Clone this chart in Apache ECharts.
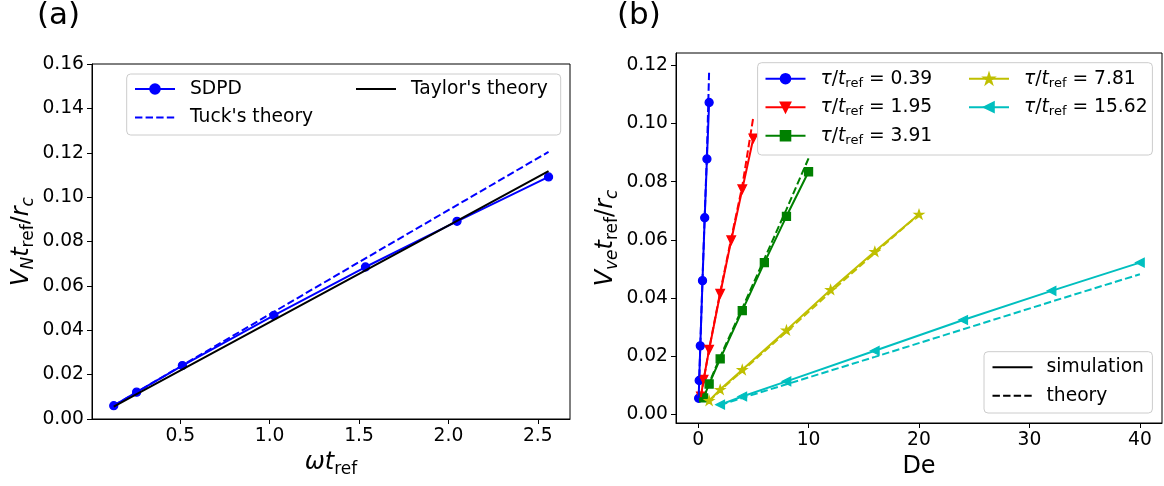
<!DOCTYPE html>
<html><head><meta charset="utf-8">
<script src="https://cdn.jsdelivr.net/npm/echarts@6/dist/echarts.min.js"></script>
<style>html,body{margin:0;padding:0;background:#fff;}#c{width:1164px;height:486px;}</style>
</head><body><div id="c"></div>
<script>
// ---------- Panel (a) data ----------
const omegaT = [0.128, 0.256, 0.512, 1.024, 1.536, 2.048, 2.56];
const sdpdV = [0.0060, 0.0121, 0.0241, 0.0467, 0.0685, 0.0891, 0.1091];
const tuckV = [0.0060, 0.0121, 0.0242, 0.0483, 0.0724, 0.0964, 0.1204];
const taylorV = [0.00558, 0.01117, 0.02234, 0.04468, 0.06702, 0.08935, 0.1117];
const aXTicks = [0.5, 1.0, 1.5, 2.0, 2.5];
const aYTicks = [0, 0.02, 0.04, 0.06, 0.08, 0.10, 0.12, 0.14, 0.16];

// ---------- Panel (b) data ----------
const tauLabels = ['0.39', '1.95', '3.91', '7.81', '15.62'];
const deTau039 = [0.05, 0.1, 0.2, 0.4, 0.6, 0.8, 1.0];
const deTau195 = [0.25, 0.5, 1, 2, 3, 4, 5];
const deTau391 = [0.5, 1, 2, 4, 6, 8, 10];
const deTau781 = [1, 2, 4, 8, 12, 16, 20];
const deTau1562 = [2, 4, 8, 16, 24, 32, 40];
const simTau039 = [0.0056, 0.0117, 0.0236, 0.0460, 0.0676, 0.0878, 0.1072];
const simTau195 = [0.0062, 0.0120, 0.0223, 0.0415, 0.0599, 0.0774, 0.0949];
const simTau391 = [0.0057, 0.0105, 0.0191, 0.0357, 0.0522, 0.0681, 0.0834];
const simTau781 = [0.0048, 0.0086, 0.0154, 0.0290, 0.0429, 0.0560, 0.0688];
const simTau1562 = [0.0034, 0.0062, 0.0114, 0.0219, 0.0325, 0.0425, 0.0522];
const thTau039 = [0.0057, 0.0117, 0.0237, 0.0465, 0.0685, 0.0895, 0.1183];
const thTau195 = [0.0060, 0.0118, 0.0226, 0.0420, 0.0605, 0.0785, 0.1022];
const thTau391 = [0.0057, 0.0108, 0.0198, 0.0365, 0.0535, 0.0705, 0.0880];
const thTau781 = [0.0046, 0.0083, 0.0150, 0.0284, 0.0421, 0.0555, 0.0688];
const thTau1562 = [0.0033, 0.0057, 0.0104, 0.0198, 0.0293, 0.0388, 0.0482];
const bXTicks = [0, 10, 20, 30, 40];
const bYTicks = [0, 0.02, 0.04, 0.06, 0.08, 0.10, 0.12];

const FONT = 'DejaVu Sans';
const pts = (xs, ys) => xs.map((x, i) => [x, ys[i]]);
const DASH = [7.4, 3.2];

const STAR = 'path://M0,-1 L0.2245,-0.309 L0.9511,-0.309 L0.3633,0.118 L0.5878,0.809 L0,0.382 L-0.5878,0.809 L-0.3633,0.118 L-0.9511,-0.309 L-0.2245,-0.309 Z';
const TRI_DOWN = 'path://M0,0 L2,0 L1,2 Z';
const TRI_LEFT = 'path://M0,1 L2,0 L2,2 Z';

const bGroups = [
  {de: deTau039, sim: simTau039, th: thTau039, color: '#0000ff', symbol: 'circle', size: 8},
  {de: deTau195, sim: simTau195, th: thTau195, color: '#ff0000', symbol: TRI_DOWN, size: 8.5},
  {de: deTau391, sim: simTau391, th: thTau391, color: '#008000', symbol: 'rect', size: 8},
  {de: deTau781, sim: simTau781, th: thTau781, color: '#bfbf00', symbol: STAR, size: [9, 8.5]},
  {de: deTau1562, sim: simTau1562, th: thTau1562, color: '#00bfbf', symbol: TRI_LEFT, size: 8.5}
];
const tauName = t => 'τ/tref = ' + t;

const axisRich = {
  it: {fontFamily: FONT, fontStyle: 'italic', fontSize: 24, lineHeight: 30, verticalAlign: 'middle', color: '#000'},
  n: {fontFamily: FONT, fontSize: 24, lineHeight: 30, verticalAlign: 'middle', color: '#000'},
  sub: {fontFamily: FONT, fontSize: 17, lineHeight: 16, verticalAlign: 'bottom', color: '#000'},
  subi: {fontFamily: FONT, fontStyle: 'italic', fontSize: 17, lineHeight: 16, verticalAlign: 'bottom', color: '#000'}
};
const legRich = {
  it: {fontFamily: FONT, fontStyle: 'italic', fontSize: 18.7, lineHeight: 22, verticalAlign: 'middle', color: '#000'},
  n: {fontFamily: FONT, fontSize: 18.7, lineHeight: 22, verticalAlign: 'middle', color: '#000'},
  sub: {fontFamily: FONT, fontSize: 13, lineHeight: 11, verticalAlign: 'bottom', color: '#000'}
};

function axisCommon(extra) {
  return Object.assign({
    type: 'value',
    splitLine: {show: false},
    axisLine: {show: true, onZero: false, lineStyle: {color: '#000', width: 1}},
    axisTick: {show: true, inside: false, length: 5, lineStyle: {color: '#000', width: 1}},
    axisLabel: {fontFamily: FONT, fontSize: 18.7, color: '#000', margin: 8},
    nameTextStyle: {rich: axisRich, fontFamily: FONT, fontSize: 24, color: '#000'}
  }, extra);
}

const series = [];
series.push({type: 'line', name: 'SDPD', xAxisIndex: 0, yAxisIndex: 0, data: pts(omegaT, sdpdV),
  symbol: 'circle', symbolSize: 8, color: '#0000ff',
  lineStyle: {width: 2, color: '#0000ff'}, itemStyle: {color: '#0000ff', borderColor: '#0000ff', borderWidth: 1.3}, z: 2});
series.push({type: 'line', name: "Tuck's theory", xAxisIndex: 0, yAxisIndex: 0, data: pts(omegaT, tuckV),
  symbol: 'none', color: '#0000ff', lineStyle: {width: 2, color: '#0000ff', type: DASH}, z: 3});
series.push({type: 'line', name: "Taylor's theory", xAxisIndex: 0, yAxisIndex: 0, data: pts(omegaT, taylorV),
  symbol: 'none', color: '#000000', lineStyle: {width: 2, color: '#000000'}, z: 4});

bGroups.forEach((g, i) => {
  series.push({type: 'line', name: tauName(tauLabels[i]), xAxisIndex: 1, yAxisIndex: 1, data: pts(g.de, g.sim),
    symbol: g.symbol, symbolSize: g.size, color: g.color,
    lineStyle: {width: 2, color: g.color}, itemStyle: {color: g.color, borderColor: g.color, borderWidth: 1.3}, z: 2});
  series.push({type: 'line', name: 'theory ' + tauLabels[i], xAxisIndex: 1, yAxisIndex: 1, data: pts(g.de, g.th),
    symbol: 'none', color: g.color, lineStyle: {width: 2, color: g.color, type: DASH}, z: 3});
});
series.push({type: 'line', name: 'simulation', xAxisIndex: 1, yAxisIndex: 1, data: [], symbol: 'none', color: '#000', lineStyle: {width: 2, color: '#000'}});
series.push({type: 'line', name: 'theory', xAxisIndex: 1, yAxisIndex: 1, data: [], symbol: 'none', color: '#000', lineStyle: {width: 2, color: '#000', type: DASH}});

// legend entries for plain lines: hide the default marker in the legend icon
const lineOnly = name => ({name: name, itemStyle: {color: 'rgba(0,0,0,0)', borderColor: 'rgba(0,0,0,0)', borderWidth: 0, opacity: 0}});

function legendFmt(name) {
  if (name.indexOf('τ/tref = ') === 0) {
    return '{it|τ}{n|/}{it|t}{sub|ref}{n| = ' + name.slice(9) + '}';
  }
  return '{n|' + name + '}';
}
function legend(data, left, top, textPad) {
  return {
    data: data, orient: 'vertical', left: left, top: top, padding: 0,
    itemWidth: 40, itemHeight: 12, itemGap: 6.5, selectedMode: false, z: 10,
    formatter: legendFmt,
    textStyle: {fontFamily: FONT, fontSize: 18.7, color: '#000', lineHeight: 22, padding: [0, 0, 0, textPad], rich: legRich}
  };
}

const option = {
  animation: false,
  backgroundColor: '#fff',
  grid: [
    {left: 92, top: 64, width: 478, height: 355, show: true, borderColor: '#000', borderWidth: 1, backgroundColor: 'transparent'},
    {left: 676, top: 53, width: 486, height: 370, show: true, borderColor: '#000', borderWidth: 1, backgroundColor: 'transparent'}
  ],
  xAxis: [
    axisCommon({gridIndex: 0, min: 0.0064, max: 2.68,
      axisTick: {show: true, inside: false, length: 5, customValues: aXTicks, lineStyle: {color: '#000', width: 1}},
      axisLabel: {fontFamily: FONT, fontSize: 18.7, color: '#000', margin: 8, customValues: aXTicks, formatter: v => v.toFixed(1)},
      name: '{it|ωt}{sub|ref}', nameLocation: 'middle', nameGap: 28}),
    axisCommon({gridIndex: 1, min: -2, max: 42,
      axisTick: {show: true, inside: false, length: 5, customValues: bXTicks, lineStyle: {color: '#000', width: 1}},
      axisLabel: {fontFamily: FONT, fontSize: 18.7, color: '#000', margin: 8, customValues: bXTicks, formatter: v => String(Math.round(v))},
      name: '{n|De}', nameLocation: 'middle', nameGap: 28})
  ],
  yAxis: [
    axisCommon({gridIndex: 0, min: 0, max: 0.16,
      axisTick: {show: true, inside: false, length: 5, customValues: aYTicks, lineStyle: {color: '#000', width: 1}},
      axisLabel: {fontFamily: FONT, fontSize: 18.7, color: '#000', margin: 8, customValues: aYTicks, formatter: v => v.toFixed(2)},
      name: '{it|V}{subi|N}{it|t}{sub|ref}{n|/}{it|r}{subi|c}', nameLocation: 'middle', nameGap: 55}),
    axisCommon({gridIndex: 1, min: -0.0029, max: 0.1242,
      axisTick: {show: true, inside: false, length: 5, customValues: bYTicks, lineStyle: {color: '#000', width: 1}},
      axisLabel: {fontFamily: FONT, fontSize: 18.7, color: '#000', margin: 8, customValues: bYTicks, formatter: v => v.toFixed(2)},
      name: '{it|V}{subi|ve}{it|t}{sub|ref}{n|/}{it|r}{subi|c}', nameLocation: 'middle', nameGap: 55})
  ],
  legend: [
    legend(['SDPD', lineOnly("Tuck's theory")], 134, 78, 10),
    legend([lineOnly("Taylor's theory")], 355, 78, 10),
    legend(tauLabels.slice(0, 3).map(tauName), 764.5, 67.7, 10),
    legend(tauLabels.slice(3).map(tauName), 968, 67.7, 10),
    legend([lineOnly('simulation'), lineOnly('theory')], 991.5, 356.3, 9)
  ],
  graphic: [
    {type: 'rect', z: 5, shape: {x: 126.7, y: 74, width: 434, height: 61, r: 4},
      style: {fill: 'rgba(255,255,255,0.8)', stroke: '#cccccc', lineWidth: 1}},
    {type: 'rect', z: 5, shape: {x: 757.6, y: 62.7, width: 394.8, height: 92.3, r: 4},
      style: {fill: 'rgba(255,255,255,0.8)', stroke: '#cccccc', lineWidth: 1}},
    {type: 'rect', z: 5, shape: {x: 984, y: 351.7, width: 168.4, height: 61.3, r: 4},
      style: {fill: 'rgba(255,255,255,0.8)', stroke: '#cccccc', lineWidth: 1}},
    {type: 'text', z: 10, x: 37, y: 16, style: {text: '(a)', fontFamily: FONT, fontSize: 31, fill: '#000', align: 'left', verticalAlign: 'middle', textAlign: 'left', textVerticalAlign: 'middle'}},
    {type: 'text', z: 10, x: 617, y: 16, style: {text: '(b)', fontFamily: FONT, fontSize: 31, fill: '#000', align: 'left', verticalAlign: 'middle', textAlign: 'left', textVerticalAlign: 'middle'}}
  ],
  series: series
};

const chart = echarts.init(document.getElementById('c'), null, {renderer: 'canvas'});
chart.setOption(option);
</script>
</body></html>
